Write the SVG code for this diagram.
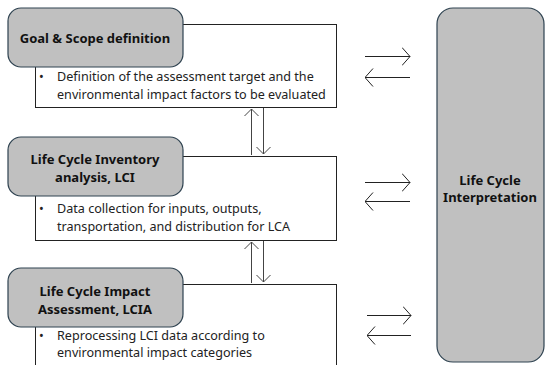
<svg xmlns="http://www.w3.org/2000/svg" width="547" height="365" viewBox="0 0 547 365">
<style>
.title{font-family:"Noto Sans",sans-serif;font-weight:bold;font-size:13px;fill:#111;text-anchor:middle}
.body{font-family:"Noto Sans",sans-serif;font-size:12.6px;fill:#222}
.rbox{fill:#c0c0c0;stroke:#2e4250;stroke-width:1.2}
.panel{fill:#fff;stroke:#222;stroke-width:1}
.arr{stroke:#222;stroke-width:1;fill:none}
.varr{stroke:#444;stroke-width:1;fill:none}
</style>
<defs>
<marker id="h" viewBox="0 0 9 20" refX="8.5" refY="10" markerWidth="9" markerHeight="20" markerUnits="userSpaceOnUse" orient="auto-start-reverse">
<path d="M0.5,1 L8.5,10 L0.5,19" fill="none" stroke="#222" stroke-width="1"/>
</marker>
<marker id="v" viewBox="0 0 8 16" refX="7.5" refY="8" markerWidth="8" markerHeight="16" markerUnits="userSpaceOnUse" orient="auto-start-reverse">
<path d="M0.5,1 L7.5,8 L0.5,15" fill="none" stroke="#444" stroke-width="1"/>
</marker>
</defs>
<g id="goal">
<rect class="panel" x="35.5" y="24.5" width="301" height="83"/>
<rect class="rbox" x="8" y="8" width="175" height="59" rx="13"/>
<text class="title" x="95" y="43">Goal &amp; Scope definition</text>
<text class="body" x="39" y="81">•</text>
<text class="body" x="57" y="81">Definition of the assessment target and the</text>
<text class="body" x="57" y="99">environmental impact factors to be evaluated</text>
</g>
<g id="lci">
<rect class="panel" x="35.5" y="156.5" width="301" height="84"/>
<rect class="rbox" x="8" y="137" width="175" height="59" rx="13"/>
<text class="title" x="95" y="164">Life Cycle Inventory</text>
<text class="title" x="95" y="182">analysis, LCI</text>
<text class="body" x="39" y="213">•</text>
<text class="body" x="57" y="213">Data collection for inputs, outputs,</text>
<text class="body" x="57" y="231">transportation, and distribution for LCA</text>
</g>
<g id="lcia">
<rect class="panel" x="35.5" y="284.5" width="301" height="100"/>
<rect class="rbox" x="8" y="268" width="175" height="59" rx="13"/>
<text class="title" x="95" y="296">Life Cycle Impact</text>
<text class="title" x="95" y="314">Assessment, LCIA</text>
<text class="body" x="39" y="340">•</text>
<text class="body" x="57" y="340">Reprocessing LCI data according to</text>
<text class="body" x="57" y="357">environmental impact categories</text>
</g>
<g id="interpretation">
<rect class="rbox" x="437" y="8" width="107" height="354" rx="16"/>
<text class="title" x="490" y="185">Life Cycle</text>
<text class="title" x="490" y="202">Interpretation</text>
</g>
<g id="connectors">
<line class="varr" x1="251.5" y1="155" x2="251.5" y2="109" marker-end="url(#v)"/>
<line class="varr" x1="263.5" y1="108" x2="263.5" y2="154" marker-end="url(#v)"/>
<line class="varr" x1="251.5" y1="283" x2="251.5" y2="242" marker-end="url(#v)"/>
<line class="varr" x1="263.5" y1="241" x2="263.5" y2="282" marker-end="url(#v)"/>
<line class="arr" x1="365" y1="56.5" x2="410" y2="56.5" marker-end="url(#h)"/>
<line class="arr" x1="410" y1="77.5" x2="365" y2="77.5" marker-end="url(#h)"/>
<line class="arr" x1="365" y1="182.5" x2="410" y2="182.5" marker-end="url(#h)"/>
<line class="arr" x1="410" y1="201.5" x2="365" y2="201.5" marker-end="url(#h)"/>
<line class="arr" x1="367" y1="315.5" x2="411" y2="315.5" marker-end="url(#h)"/>
<line class="arr" x1="411" y1="335.5" x2="367" y2="335.5" marker-end="url(#h)"/>
</g>
</svg>
